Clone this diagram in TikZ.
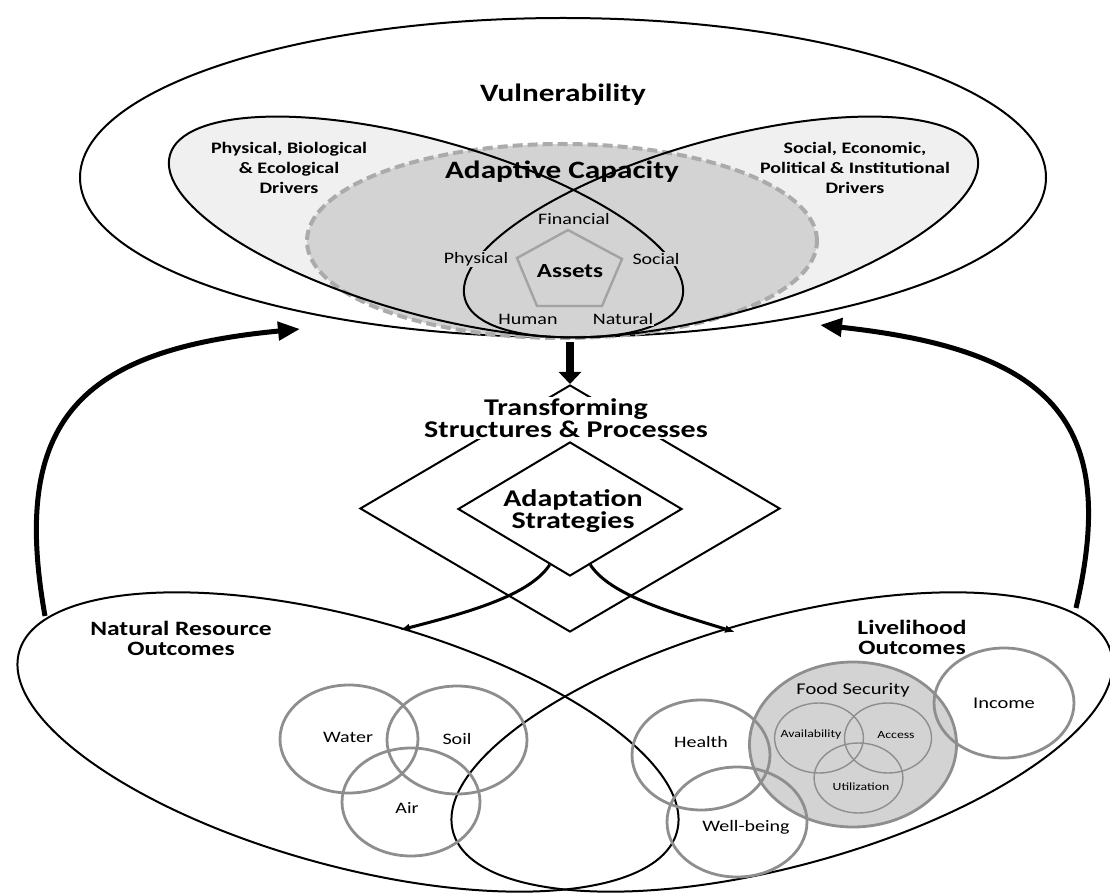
\documentclass[tikz,border=0pt]{standalone}
\usepackage{fontspec}
\setmainfont{Carlito}[FakeStretch=1.25]
\usetikzlibrary{arrows.meta,shapes.geometric}
\definecolor{drvfill}{HTML}{F0F0F0}
\definecolor{acfill}{HTML}{D3D3D3}
\definecolor{acline}{HTML}{ABABAB}
\definecolor{ringgray}{HTML}{8E8E8E}
\definecolor{pentgray}{HTML}{A3A3A3}
\begin{document}
\begin{tikzpicture}[x=0.5pt, y=-0.5pt,
  outline/.style={draw=black, line width=1pt},
  ring/.style={draw=ringgray, line width=1.4pt},
  smallring/.style={draw=ringgray, line width=0.7pt},
  hd/.style={font=\bfseries\fontsize{12}{11}\selectfont, align=center, inner sep=0.5pt},
  sub/.style={font=\bfseries\fontsize{10.2}{10}\selectfont, align=center, inner sep=0.5pt},
  drv/.style={font=\bfseries\fontsize{8}{10}\selectfont, align=center},
  lbl/.style={font=\fontsize{8}{9}\selectfont, inner sep=0.5pt},
  tiny/.style={font=\fontsize{5.5}{6}\selectfont, inner sep=0.5pt},
  feed/.style={line width=2.5pt, -{Triangle[length=11pt,width=9pt]}},
  flow/.style={line width=1.5pt, -{Latex[length=5pt,width=4pt]}}]

\useasboundingbox (0,0) rectangle (1110,893);
\clip (0,0) rectangle (1110,893);

% vulnerability and drivers
\node[ellipse, outline, fill=white, minimum width=483pt, minimum height=159.5pt, inner sep=0pt] (vul) at (563,177.5) {};
\fill[drvfill, rotate around={-15.7:(426,227)}] (426,227) ellipse [x radius=266, y radius=87];
\fill[drvfill, rotate around={15.7:(721,227)}] (721,227) ellipse [x radius=266, y radius=87];
\node[ellipse, draw=acline, fill=acfill, line width=2pt, dash pattern=on 5pt off 2.5pt, minimum width=255pt, minimum height=97pt, inner sep=0pt] (ac) at (562,241) {};
\draw[outline, rotate around={-15.7:(426,227)}] (426,227) ellipse [x radius=266, y radius=87];
\draw[outline, rotate around={15.7:(721,227)}] (721,227) ellipse [x radius=266, y radius=87];
\draw[pentgray, line width=1.2pt] (568,230) -- (622,259) -- (602,306) -- (537,306) -- (517,258) -- cycle;

\node[hd, font=\bfseries\fontsize{12.5}{12}\selectfont] (vulT) at (563,95) {Vulnerability};
\node[drv] (drvLT) at (289,168) {Physical, Biological\\\& Ecological\\Drivers};
\node[drv] (drvRT) at (855,168) {Social, Economic,\\Political \& Institutional\\Drivers};
\node[hd, font=\bfseries\fontsize{12.5}{12}\selectfont] (acT) at (562,172) {Adaptive Capacity};
\node[lbl, fill=acfill] (fin) at (574,219) {Financial};
\node[lbl, fill=acfill] (phy) at (476,259) {Physical};
\node[lbl, fill=acfill] (soc) at (656,259) {Social};
\node[lbl, fill=acfill] (hum) at (528,319) {Human};
\node[lbl, fill=acfill] (nat) at (623,319) {Natural};
\node[font=\bfseries\fontsize{10}{10}\selectfont] (ass) at (570,271) {Assets};

% transforming structures
\node[diamond, outline, minimum width=210pt, minimum height=123.5pt, inner sep=0pt] (tsp) at (570,508.5) {};
\node[diamond, outline, minimum width=112pt, minimum height=67pt, inner sep=0pt] (adapt) at (570,509) {};
\node[hd, fill=white] (tspT) at (566,418) {Transforming\\Structures \& Processes};
\node[hd] (adaptT) at (573,511) {Adaptation\\Strategies};
\coordinate (vulBase) at ([yshift=-2pt]vul.south);
\draw[line width=4pt, -{Triangle[length=6pt,width=11pt]}] (vulBase -| tsp.north) -- (tsp.north);

% outcomes
\node[ellipse, outline, rotate=-15.3, minimum width=341pt, minimum height=124pt, inner sep=0pt] (nro) at (348,742) {};
\node[ellipse, outline, rotate=15.3, minimum width=341pt, minimum height=124pt, inner sep=0pt] (lvo) at (782,742) {};
\node[sub] (nroT) at (181,638) {Natural Resource\\Outcomes};
\node[sub] (lvoT) at (912,637) {Livelihood\\Outcomes};

\draw[ring] (349,739) ellipse [x radius=69, y radius=54];
\draw[ring] (457,740) ellipse [x radius=70, y radius=54];
\draw[ring] (411,802) ellipse [x radius=69, y radius=54];
\node[lbl] (wat) at (348,737) {Water};
\node[lbl] (soil) at (457,739) {Soil};
\node[lbl] (air) at (407,808) {Air};

\draw[ring, fill=acfill] (853,744.5) ellipse [x radius=103.5, y radius=82.5];
\draw[ring] (701,755) ellipse [x radius=69, y radius=55];
\draw[ring] (737,822) ellipse [x radius=70, y radius=55];
\draw[ring] (1004,703) ellipse [x radius=70, y radius=55];
\draw[smallring] (819,738) ellipse [x radius=44.4, y radius=35];
\draw[smallring] (888,738) ellipse [x radius=43.5, y radius=35];
\draw[smallring] (858.5,778) ellipse [x radius=44.4, y radius=35];
\node[lbl, font=\fontsize{8.2}{9}\selectfont] (food) at (853,690) {Food Security};
\node[tiny] (avl) at (811,735) {Availability};
\node[tiny] (acc) at (896,735) {Access};
\node[tiny] (util) at (861,787) {Utilization};
\node[lbl] (hlth) at (701,742) {Health};
\node[lbl] (well) at (746,827) {Well-being};
\node[lbl, font=\fontsize{8.2}{9}\selectfont] (inc) at (1004,703) {Income};

% connectors
\coordinate (nroTip) at (400,630);
\coordinate (lvoTip) at (735,632);
\draw[flow] (adapt.-110) .. controls (530,595) and (470,612) .. (nroTip);
\draw[flow] (adapt.-70) .. controls (610,595) and (670,612) .. (lvoTip);
\coordinate (nroArc) at (45,616);
\coordinate (vulL) at (300,329);
\coordinate (lvoArc) at (1076,608);
\coordinate (vulR) at (820,325);
\draw[feed] (nroArc) .. controls (10,420) and (80,350) .. (vulL);
\draw[feed] (lvoArc) .. controls (1120,420) and (1050,350) .. (vulR);
\end{tikzpicture}
\end{document}
